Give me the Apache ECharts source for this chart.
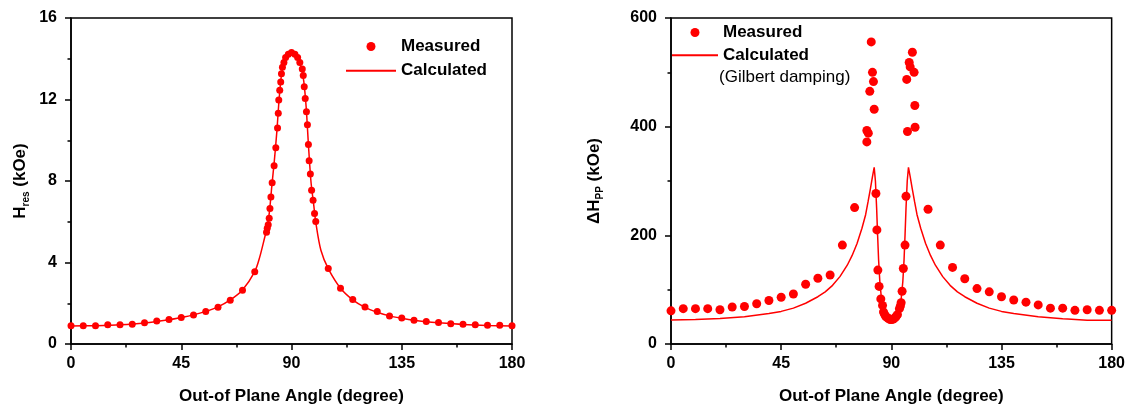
<!DOCTYPE html>
<html><head><meta charset="utf-8">
<script src="https://cdn.jsdelivr.net/npm/echarts@6.0.0/dist/echarts.min.js"></script>
<style>html,body{margin:0;padding:0;background:#fff}#c{width:1128px;height:410px}</style>
</head><body><div id="c"></div>
<script>
// ---- Left panel: resonance field H_res (kOe) vs out-of-plane angle ----
const hresAngle = [0,5,10,15,20,25,30,35,40,45,50,55,60,65,70,75,
  79.8,80.1,80.5,80.9,81.2,81.6,82.1,82.9,83.6,84.3,84.6,84.8,85.2,85.6,85.9,86.3,86.9,87.6,88.7,90.0,
  91.4,92.5,93.4,94.4,94.8,95.2,95.6,96.1,96.5,96.9,97.2,97.7,98.2,98.8,99.4,99.9,
  105,110,115,120,125,130,135,140,145,150,155,160,165,170,175,180];
const hresMeasured = [0.89,0.9,0.9,0.94,0.94,0.97,1.04,1.13,1.2,1.3,1.42,1.59,1.8,2.15,2.64,3.55,
  5.49,5.68,5.85,6.17,6.65,7.22,7.91,8.75,9.63,10.6,11.32,11.97,12.45,12.86,13.26,13.58,13.82,14.06,14.22,14.31,
  14.22,14.06,13.82,13.5,13.18,12.62,12.05,11.4,10.76,9.79,8.99,8.34,7.54,7.06,6.41,6.01,
  3.71,2.74,2.18,1.81,1.6,1.38,1.28,1.17,1.1,1.05,1.0,0.97,0.94,0.92,0.92,0.89];
const hresCalcAngle = [0,10,20,30,40,45,50,55,60,65,70,75,77,79,80,81,82,83,84,85,86,87,88,89,90,
  91,92,93,94,95,96,97,98,99,100,102,105,110,115,120,125,130,135,140,145,150,160,170,180];
const hresCalc = [0.88,0.9,0.94,1.03,1.19,1.3,1.43,1.6,1.82,2.16,2.65,3.55,4.25,5.2,5.7,6.5,7.8,9.0,10.4,12.1,13.3,13.85,14.15,14.28,14.32,
  14.26,14.12,13.9,13.55,12.9,11.6,9.6,7.9,6.9,5.9,4.6,3.7,2.74,2.17,1.8,1.56,1.38,1.26,1.16,1.09,1.04,0.96,0.91,0.88];

// ---- Right panel: linewidth ΔH_pp vs out-of-plane angle ----
const dhAngle = [0,5,10,15,20,25,30,35,40,45,50,55,60,65,70,75,
  80.0,80.0,80.6,81.2,81.8,82.3,82.7,83.0,
  83.7,84.1,84.5,85.0,85.7,86.4,86.8,87.2,87.7,88.2,88.8,89.5,90.2,90.8,91.5,92.0,92.5,93.3,93.7,94.0,94.4,94.9,95.6,96.0,
  96.6,96.3,97.3,97.7,98.6,99.3,99.6,99.7,
  105,110,115,120,125,130,135,140,145,150,155,160,165,170,175,180];
const dhMeasured = [61,65,65,65,63,68,69,74,80,86,92,110,121,127,182,251,
  372,393,388,465,556,500,483,432,
  277,210,136,106,83,71,59,55,51,49,47,45,45,46,48,51,54,65,70,76,97,139,182,272,
  391,487,518,510,537,500,439,399,
  248,182,141,120,102,96,87,81,77,72,66,66,62,63,62,62];
const dhCalcAngle = [0,10,20,30,40,45,50,55,60,63,66,69,72,74,76,78,79.5,80.5,81.5,82.3,83.0,
  83.5,84.0,84.4,84.8,85.3,86,87,88,89,90,91,92,93,94,94.7,95.2,95.6,96.0,96.5,
  97.0,97.7,98.5,99.5,100.5,102,104,106,108,111,114,117,120,125,130,135,140,150,160,162,162.5,170,180];
const dhCalc = [44,45,47,50,56,60,66,75,87,96,108,124,145,163,185,213,238,262,287,308,325,
  300,250,200,155,115,82,60,49,44.5,43,44.5,49,60,82,115,155,200,250,300,
  325,308,287,262,238,213,185,163,145,124,108,96,87,75,66,60,56,50,46.5,46,43.5,43.5,43.5];

const angleTicks = {min: 0, max: 180, interval: 45};
const hresTicks = {min: 0, max: 16, interval: 4};
const dhTicks = {min: 0, max: 600, interval: 200};

const FONT = '"Liberation Sans", Arial, sans-serif';
const RED = '#ff0000';
const zip = (a, b) => a.map((v, i) => [v, b[i]]);

function xAxis(gi) {
  return {
    type: 'value', gridIndex: gi, ...angleTicks,
    name: 'Out-of Plane Angle (degree)', nameLocation: 'middle', nameGap: 44,
    nameTextStyle: {fontFamily: FONT, fontSize: 17, fontWeight: 'bold', color: '#000'},
    axisLine: {lineStyle: {color: '#000', width: 1.5}},
    axisTick: {show: true, inside: false, length: 6, lineStyle: {color: '#000', width: 1.5}},
    minorTick: {show: true, splitNumber: 2, length: 3.5, lineStyle: {color: '#000', width: 1.5}},
    axisLabel: {fontFamily: FONT, fontSize: 16, fontWeight: 'bold', color: '#000', margin: 12},
    splitLine: {show: false}
  };
}
function yAxis(gi, ticks, name, gap) {
  return {
    type: 'value', gridIndex: gi, ...ticks,
    name: name, nameLocation: 'middle', nameGap: gap, nameRotate: 90,
    nameTextStyle: {
      color: '#000',
      rich: {
        b: {fontFamily: FONT, fontSize: 17, fontWeight: 'bold', color: '#000', lineHeight: 22},
        s: {fontFamily: FONT, fontSize: 10, fontWeight: 'bold', color: '#000', lineHeight: 12, verticalAlign: 'bottom'}
      }
    },
    axisLine: {show: true, lineStyle: {color: '#000', width: 1.5}},
    axisTick: {show: true, inside: false, length: 6, lineStyle: {color: '#000', width: 1.5}},
    minorTick: {show: true, splitNumber: 2, length: 3.5, lineStyle: {color: '#000', width: 1.5}},
    axisLabel: {fontFamily: FONT, fontSize: 16, fontWeight: 'bold', color: '#000', margin: 14},
    splitLine: {show: false}
  };
}
const legendText = {fontFamily: FONT, fontSize: 17, fontWeight: 'bold', color: '#000', lineHeight: 20};
const legendItems = [
  {name: 'Measured'},
  {name: 'Calculated', itemStyle: {opacity: 0}}
];

const chart = echarts.init(document.getElementById('c'), null, {renderer: 'canvas'});
chart.setOption({
  animation: false,
  backgroundColor: '#fff',
  grid: [
    {left: 71, top: 18, width: 441, height: 331, show: true, borderColor: '#000', borderWidth: 1.5, backgroundColor: 'transparent'},
    {left: 671, top: 18, width: 441, height: 331, show: true, borderColor: '#000', borderWidth: 1.5, backgroundColor: 'transparent'}
  ],
  xAxis: [xAxis(0), xAxis(1)],
  yAxis: [
    yAxis(0, hresTicks, '{b|H}{s|res}{b| (kOe)}', 40),
    yAxis(1, dhTicks, '{b|ΔH}{s|PP}{b| (kOe)}', 66)
  ],
  legend: [
    {left: 345, top: 36.5, padding: 0, orient: 'vertical', itemWidth: 50, itemHeight: 9, itemGap: 4.3,
     data: legendItems, textStyle: legendText, selectedMode: false},
    {left: 671, top: 22.5, padding: 0, orient: 'vertical', itemWidth: 46, itemHeight: 9, itemGap: 2.8,
     data: legendItems, textStyle: legendText, selectedMode: false}
  ],
  graphic: [
    {type: 'text', left: 719, top: 69, style: {text: '(Gilbert damping)', font: '17px "Liberation Sans", Arial, sans-serif', fill: '#000'}}
  ],
  series: [
    {name: 'Measured', type: 'scatter', xAxisIndex: 0, yAxisIndex: 0, symbol: 'circle', symbolSize: 7,
     itemStyle: {color: RED, opacity: 1}, data: zip(hresAngle, hresMeasured), z: 3},
    {name: 'Calculated', type: 'line', xAxisIndex: 0, yAxisIndex: 0, symbol: 'none', smooth: 0.3,
     lineStyle: {color: RED, width: 1.5}, itemStyle: {color: RED}, data: zip(hresCalcAngle, hresCalc), z: 2},
    {name: 'Measured', type: 'scatter', xAxisIndex: 1, yAxisIndex: 1, symbol: 'circle', symbolSize: 9,
     itemStyle: {color: RED, opacity: 1}, data: zip(dhAngle, dhMeasured), z: 3},
    {name: 'Calculated', type: 'line', xAxisIndex: 1, yAxisIndex: 1, symbol: 'none', smooth: false,
     lineStyle: {color: RED, width: 1.5}, itemStyle: {color: RED}, data: zip(dhCalcAngle, dhCalc), z: 2}
  ]
});
</script></body></html>
